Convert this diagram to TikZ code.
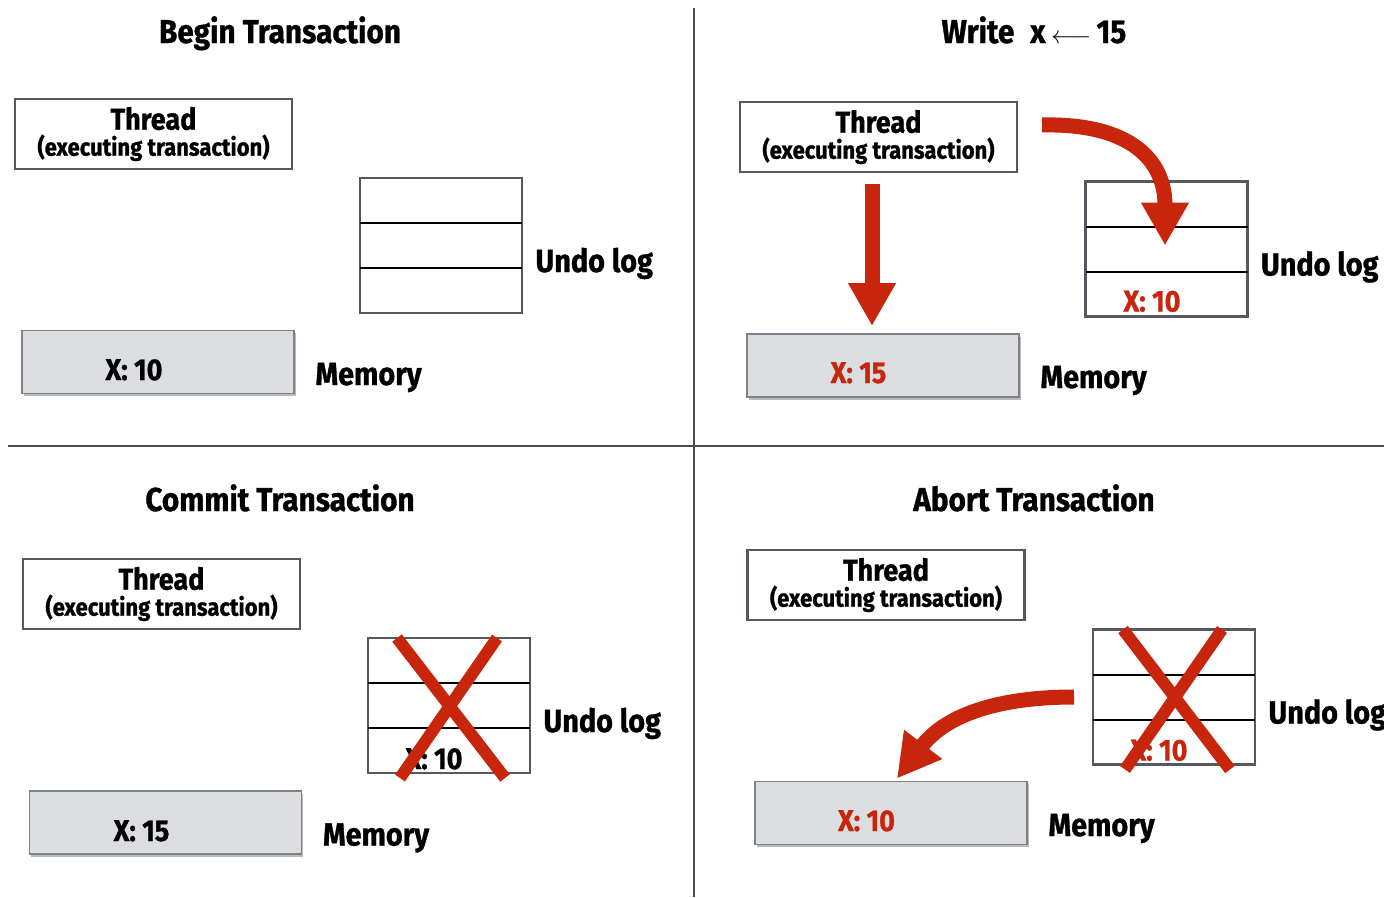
\documentclass[tikz,border=0pt]{standalone}
\usepackage{fontspec}
\setmainfont{Fira Sans}[FakeStretch=0.9, BoldFeatures={FakeBold=1}]
\usetikzlibrary{arrows.meta,shadows,calc}

\definecolor{markred}{HTML}{C8260C}
\definecolor{boxgray}{HTML}{55595F}
\definecolor{memfill}{HTML}{DCDDE0}
\definecolor{memline}{HTML}{7E8185}

\newcommand{\threadlabel}{{\fontsize{30}{26}\selectfont Thread}\\(executing transaction)}
\newcommand{\undocells}[1]{%
  \draw[cellline] ($(#1.north west)!1/3!(#1.south west)$) -- ($(#1.north east)!1/3!(#1.south east)$);
  \draw[cellline] ($(#1.north west)!2/3!(#1.south west)$) -- ($(#1.north east)!2/3!(#1.south east)$);}

\tikzset{
  title/.style={anchor=base, font=\bfseries\fontsize{33}{36}\selectfont},
  sidelabel/.style={anchor=base west, font=\bfseries\fontsize{32}{38}\selectfont},
  valtext/.style={anchor=base, font=\bfseries\fontsize{30}{34}\selectfont},
  threadbox/.style={draw=boxgray, line width=2.5pt, minimum width=277pt, minimum height=70pt,
    inner sep=0pt, outer sep=0pt, align=center, font=\bfseries\fontsize{24.5}{26}\selectfont},
  undobox/.style={draw=boxgray, line width=2.5pt, minimum width=162pt, minimum height=135pt,
    inner sep=0pt, outer sep=0pt},
  membox/.style={draw=memline, line width=1.5pt, fill=memfill, minimum width=272pt, minimum height=63pt,
    inner sep=0pt, outer sep=0pt,
    drop shadow={shadow xshift=1.5pt, shadow yshift=-2.5pt, fill=black!45, opacity=0.6}},
  cellline/.style={black, line width=2pt},
  divider/.style={draw=black!70, line width=1.2pt},
  crossout/.style={markred, line width=12pt},
  bigarrow/.style={markred, line width=15pt, -{Triangle[width=45pt,length=43pt]}},
}

\begin{document}
\begin{tikzpicture}[x=1pt,y=-1pt]
  \useasboundingbox (0,0) rectangle (1384,897);
  \draw[divider] (694,8) -- (694,897);
  \draw[divider] (8,446) -- (1384,446);

  % begin transaction
  \node[title] (t1) at (280,43) {Begin Transaction};
  \node[threadbox] (th1) at (153.5,134) {\threadlabel};
  \node[undobox] (u1) at (441,245.5) {};
  \undocells{u1}
  \node[sidelabel] (ul1) at ([shift={(10,26.5)}]u1.east) {Undo log};
  \node[membox] (m1) at (158,362) {};
  \node[valtext] (v1) at ([shift={(-24,18)}]m1.center) {X: 10};
  \node[sidelabel] (ml1) at ([shift={(18,23)}]m1.east) {Memory};

  % write
  \node[title] (t2) at (1034,43) {Write\hspace{16pt}x\,{\fontsize{27}{27}\selectfont$\longleftarrow$}\,15};
  \node[threadbox] (th2) at (878.5,137) {\threadlabel};
  \node[undobox] (u2) at (1166.5,249) {};
  \undocells{u2}
  \node[valtext, markred] (c2) at ([shift={(-14.5,-5)}]u2.south) {X: 10};
  \node[sidelabel] (ul2) at ([shift={(10,26.5)}]u2.east) {Undo log};
  \node[membox] (m2) at (883,365.5) {};
  \node[valtext, markred] (v2) at ([shift={(-24.5,17.5)}]m2.center) {X: 15};
  \node[sidelabel] (ml2) at ([shift={(18,22.5)}]m2.east) {Memory};
  \draw[bigarrow] ([shift={(-6.5,12)}]th2.south) -- ([shift={(-11,-8)}]m2.north);
  \draw[bigarrow] ([shift={(25,-12)}]th2.east) .. controls (1130,123) and (1165,160) .. ([shift={(-1.5,64)}]u2.north);

  % commit
  \node[title] (t3) at (280,511) {Commit Transaction};
  \node[threadbox] (th3) at (161.5,594) {\threadlabel};
  \node[undobox] (u3) at (449,705.5) {};
  \undocells{u3}
  \node[valtext] (c3) at ([shift={(-15,-4)}]u3.south) {X: 10};
  \draw[crossout] ([shift={(29,0)}]u3.north west) -- ([shift={(-25,5)}]u3.south east);
  \draw[crossout] ([shift={(-33,0)}]u3.north east) -- ([shift={(32,5)}]u3.south west);
  \node[sidelabel] (ul3) at ([shift={(10,26.5)}]u3.east) {Undo log};
  \node[membox] (m3) at (165.5,822.5) {};
  \node[valtext] (v3) at ([shift={(-24,18.5)}]m3.center) {X: 15};
  \node[sidelabel] (ml3) at ([shift={(18,23)}]m3.east) {Memory};

  % abort
  \node[title] (t4) at (1034,511) {Abort Transaction};
  \node[threadbox] (th4) at (886,585) {\threadlabel};
  \node[undobox] (u4) at (1174,697) {};
  \undocells{u4}
  \node[valtext, markred] (c4) at ([shift={(-15,-4)}]u4.south) {X: 10};
  \draw[crossout] ([shift={(30,0)}]u4.north west) -- ([shift={(-25,5)}]u4.south east);
  \draw[crossout] ([shift={(-33,0)}]u4.north east) -- ([shift={(32,5)}]u4.south west);
  \node[sidelabel] (ul4) at ([shift={(10,26.5)}]u4.east) {Undo log};
  \node[membox] (m4) at (891,813) {};
  \node[valtext, markred] (v4) at ([shift={(-24.5,18)}]m4.center) {X: 10};
  \node[sidelabel] (ml4) at ([shift={(18,23)}]m4.east) {Memory};
  \draw[bigarrow] ([shift={(-19,0)}]u4.west) .. controls (1005,697) and (948,712) .. ([shift={(6,-3)}]m4.north);
\end{tikzpicture}
\end{document}
